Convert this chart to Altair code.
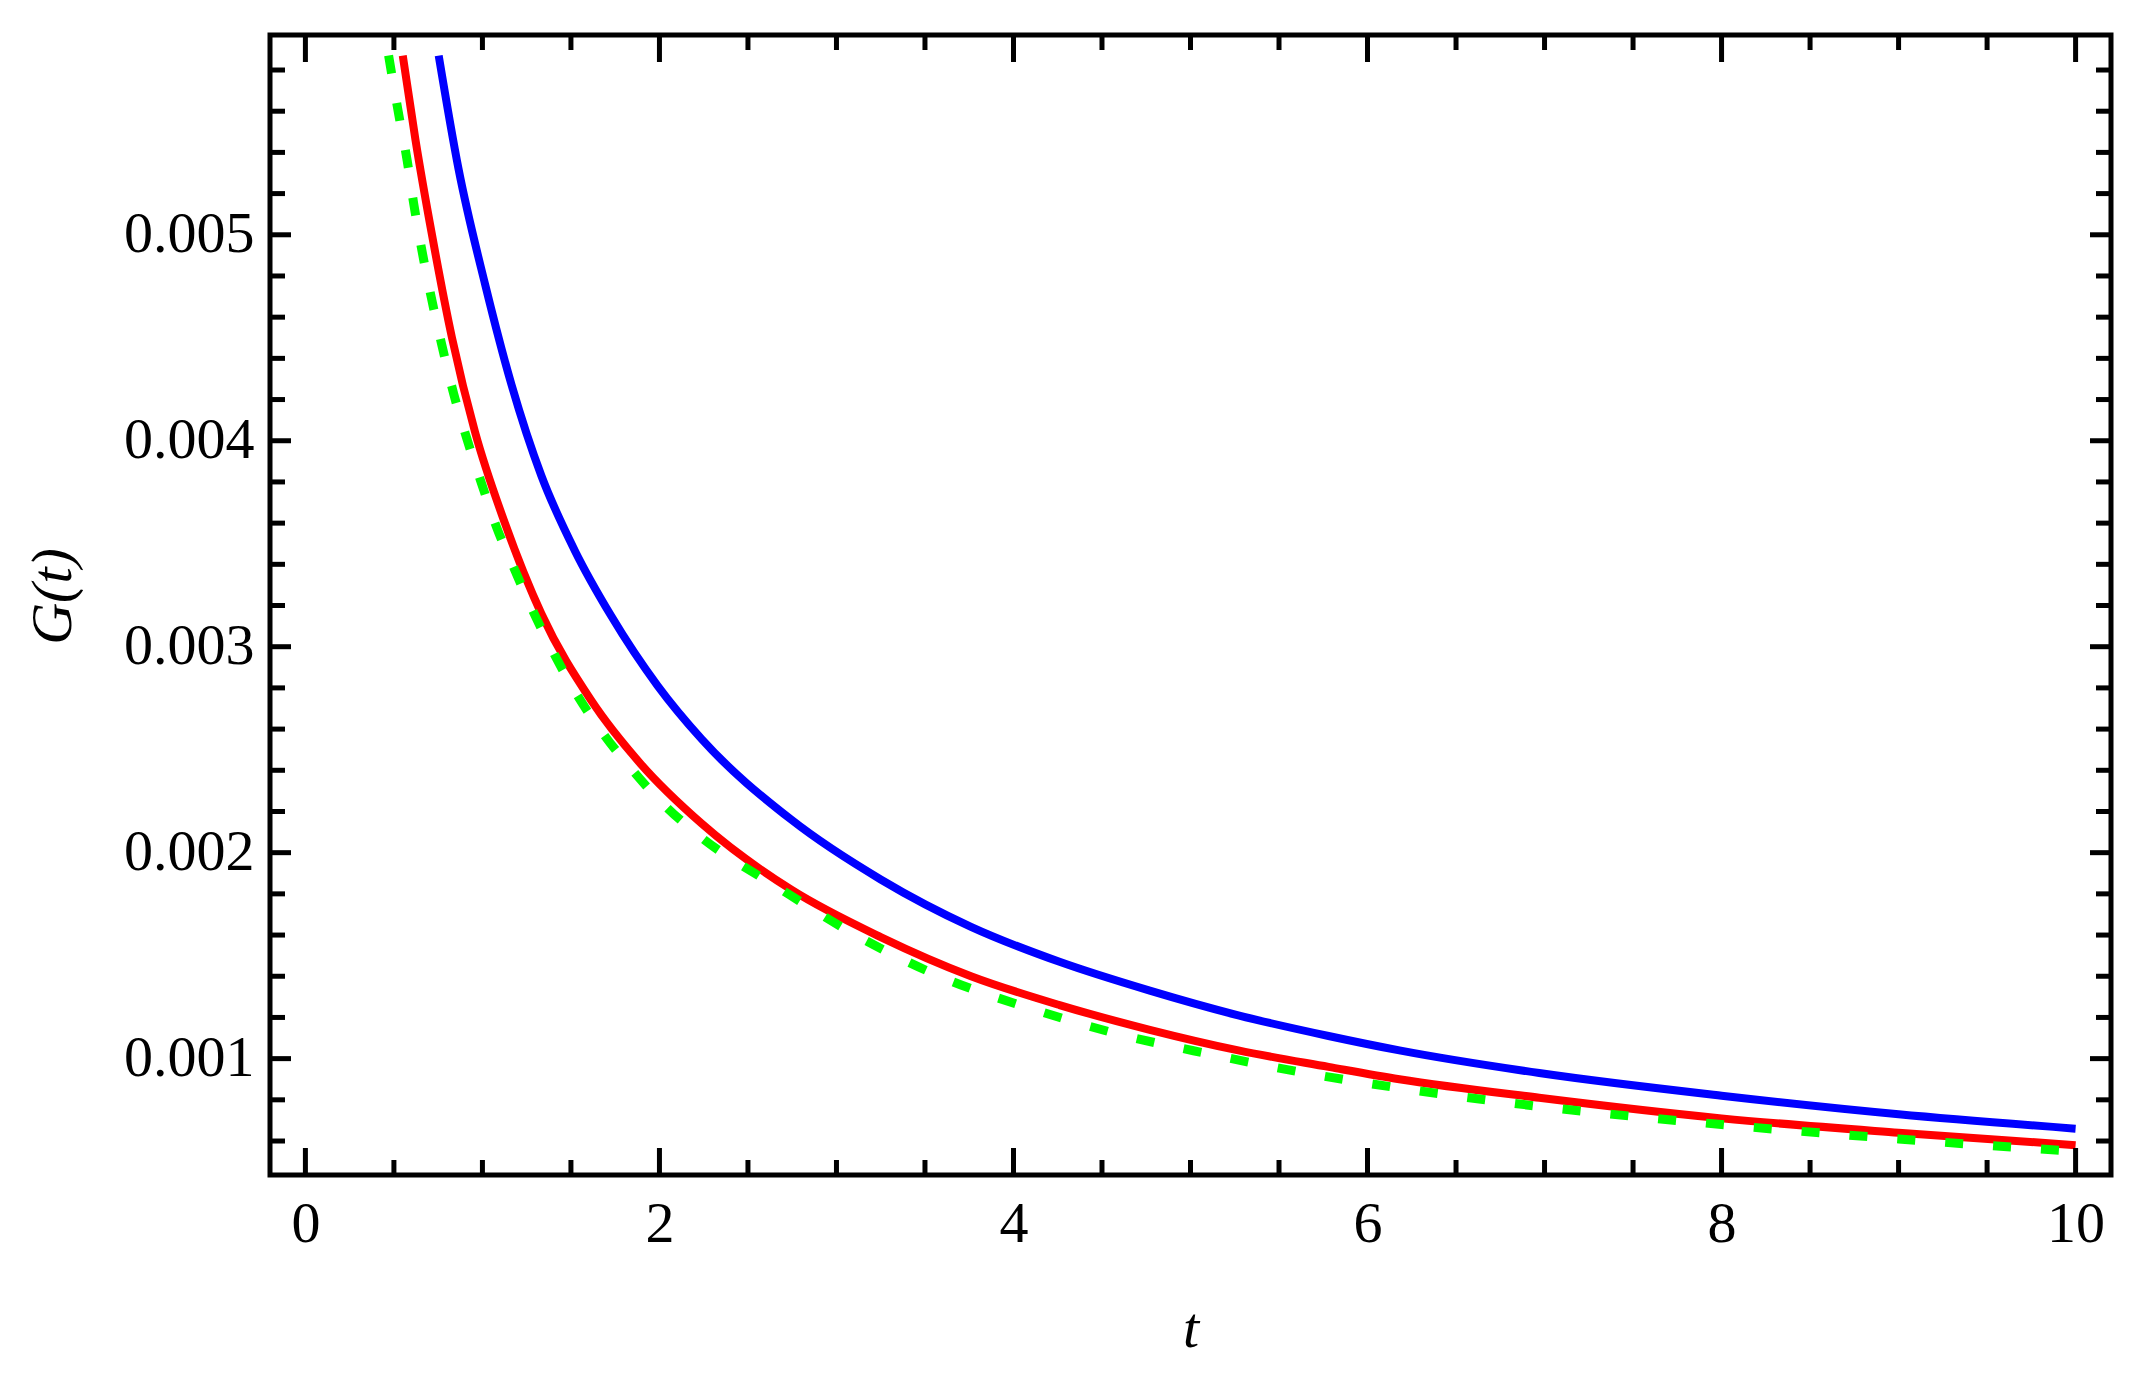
import altair as alt
import pandas as pd

# ---- data ----
t_blue = [0.753, 0.865, 1.015, 1.165, 1.333, 1.52, 1.727, 1.99, 2.24, 2.745, 3.25,
          3.76, 4.26, 4.77, 5.27, 5.78, 6.18, 6.97, 8.0, 9.0, 10.0]
g_blue = [0.00587, 0.00532, 0.00476, 0.00427, 0.00383, 0.00347, 0.00315, 0.00281,
          0.00255, 0.00216, 0.00187, 0.00164, 0.00147, 0.00133, 0.00121, 0.00111,
          0.00104, 0.00093, 0.00082, 0.00073, 0.00066]

t_red = [0.55, 0.622, 0.715, 0.828, 0.959, 1.127, 1.333, 1.614, 1.895, 2.24, 2.745,
         3.25, 3.76, 4.26, 4.77, 5.27, 5.78, 6.18, 6.97, 8.0, 9.0, 10.0]
g_red = [0.00587, 0.00546, 0.00500, 0.00450, 0.00404, 0.00360, 0.00316, 0.00274,
         0.00243, 0.00214, 0.00182, 0.00159, 0.00140, 0.00126, 0.00114, 0.00104,
         0.00096, 0.00090, 0.00081, 0.00071, 0.00064, 0.00058]

t_green = [0.47, 0.528, 0.575, 0.612, 0.659, 0.715, 0.772, 0.837, 0.912, 0.996, 1.080,
           1.184, 1.287, 1.408, 1.539, 1.689, 1.848, 2.017, 2.213, 2.69, 3.13, 3.61,
           4.11, 4.59, 5.12, 5.65, 6.16, 6.95, 8.0, 9.0, 10.0]
g_green = [0.00587, 0.00558, 0.00536, 0.00515, 0.00492, 0.00468, 0.00446, 0.00423,
           0.00401, 0.00379, 0.00358, 0.00337, 0.00317, 0.00296, 0.00276, 0.00257,
           0.00240, 0.00224, 0.00209, 0.00182, 0.00159, 0.00139, 0.00124, 0.00112,
           0.00102, 0.00093, 0.00086, 0.00077, 0.00068, 0.00061, 0.00055]

x_major = [0, 2, 4, 6, 8, 10]
x_minor = [0.5, 1, 1.5, 2.5, 3, 3.5, 4.5, 5, 5.5, 6.5, 7, 7.5, 8.5, 9, 9.5]
y_major = [0.001, 0.002, 0.003, 0.004, 0.005]
y_minor = [0.0006, 0.0008, 0.0012, 0.0014, 0.0016, 0.0018, 0.0022, 0.0024, 0.0026,
           0.0028, 0.0032, 0.0034, 0.0036, 0.0038, 0.0042, 0.0044, 0.0046, 0.0048,
           0.0052, 0.0054, 0.0056, 0.0058]

x_domain = [-0.2, 10.2]
y_domain = [0.000435, 0.00597]

# ---- layout ----
W, H = 1841, 1140
FONT = "Liberation Serif"
FS = 58

xs = alt.Scale(domain=x_domain, nice=False, zero=False)
ys = alt.Scale(domain=y_domain, nice=False, zero=False)

xaxis = alt.Axis(values=x_major, format="d", title="t", grid=False, ticks=False,
                 domain=False, labelFont=FONT, labelFontSize=FS, labelColor="black",
                 labelPadding=20, labelFlush=False, labelOverlap=False,
                 titleFont=FONT, titleFontSize=FS, titleFontStyle="italic",
                 titleFontWeight="normal", titleColor="black",
                 titleBaseline="alphabetic", titleY=171)
yaxis = alt.Axis(values=y_major, format=".3f", title="G(t)", grid=False, ticks=False,
                 domain=False, labelFont=FONT, labelFontSize=FS, labelColor="black",
                 labelPadding=16, labelFlush=False, labelOverlap=False,
                 titleFont=FONT, titleFontSize=FS, titleFontStyle="italic",
                 titleFontWeight="normal", titleColor="black", titleAngle=270,
                 titleBaseline="alphabetic", titleAlign="center",
                 titleX=-200, titleY=561)


def curve(t, g, color, width, dash=None):
    df = pd.DataFrame({"t": t, "G": g})
    kw = dict(color=color, strokeWidth=width, interpolate="monotone", clip=True)
    if dash:
        kw["strokeDash"] = dash
    return alt.Chart(df).mark_line(**kw).encode(
        x=alt.X("t:Q", scale=xs, axis=xaxis),
        y=alt.Y("G:Q", scale=ys, axis=yaxis),
    )


def xticks(vals, length):
    df = pd.DataFrame({"v": vals})
    base = alt.Chart(df).mark_rule(color="black", strokeWidth=5)
    bottom = base.encode(x=alt.X("v:Q", scale=xs, axis=xaxis),
                         y=alt.value(H), y2=alt.value(H - length))
    top = base.encode(x=alt.X("v:Q", scale=xs, axis=xaxis),
                      y=alt.value(0), y2=alt.value(length))
    return [bottom, top]


def yticks(vals, length):
    df = pd.DataFrame({"v": vals})
    base = alt.Chart(df).mark_rule(color="black", strokeWidth=5)
    left = base.encode(y=alt.Y("v:Q", scale=ys, axis=yaxis),
                       x=alt.value(0), x2=alt.value(length))
    right = base.encode(y=alt.Y("v:Q", scale=ys, axis=yaxis),
                        x=alt.value(W), x2=alt.value(W - length))
    return [left, right]


layers = [
    curve(t_blue, g_blue, "#0000ff", 8),
    curve(t_red, g_red, "#ff0000", 8),
    curve(t_green, g_green, "#00ff00", 9, dash=[18, 30]),
]
layers += xticks(x_major, 27) + xticks(x_minor, 15)
layers += yticks(y_major, 21) + yticks(y_minor, 15)

chart = alt.layer(*layers).properties(
    width=W, height=H,
    autosize=alt.AutoSizeParams(type="none"),
    padding={"left": 262, "top": 27, "right": 30, "bottom": 190},
).configure(
    background="white",
    view=alt.ViewConfig(stroke="black", strokeWidth=5, fill="white"),
)

chart.save("out.html", embed_options={"renderer": "svg", "actions": False})
